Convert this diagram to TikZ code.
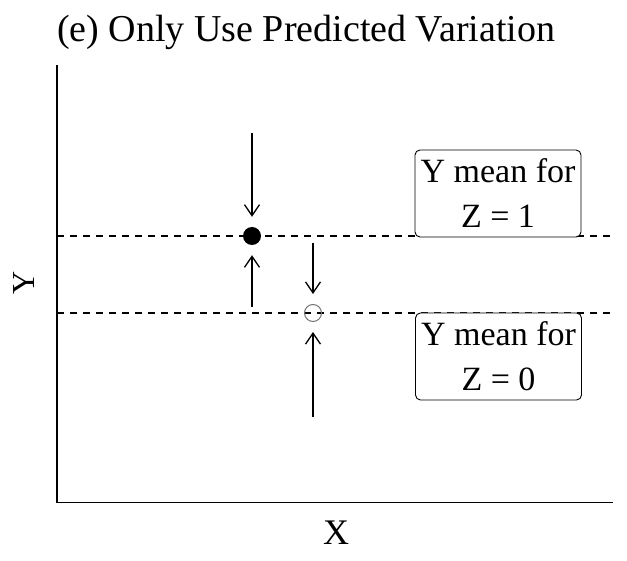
\documentclass[tikz,border=0pt]{standalone}
\usepackage{fontspec}
\setmainfont{Liberation Serif}
\usetikzlibrary{arrows.meta}
\begin{document}
\begin{tikzpicture}[x=1pt,y=-1pt,
  axisline/.style={line width=1.8pt},
  meanline/.style={line width=1.4pt, dash pattern=on 7pt off 6pt},
  pointer/.style={line width=1.3pt, -{Straight Barb[length=11pt,width=15pt,line width=1.3pt]}, shorten >=10pt},
  labelbox/.style={draw, line width=0.9pt, rounded corners=5pt, fill=white, minimum width=166pt, minimum height=87pt, align=center, inner sep=0pt, font=\fontsize{34}{45}\selectfont},
  dotfull/.style={circle, fill=black, minimum size=18pt, inner sep=0pt},
  dotopen/.style={circle, draw=black!55, line width=1pt, minimum size=17pt, inner sep=0pt}]
\useasboundingbox (0,0) rectangle (627,561);
% title and axis labels
\node[anchor=base west, font=\fontsize{38}{40}\selectfont, inner sep=0pt] (title) at (57,42) {(e) Only Use Predicted Variation};
\node[rotate=90, font=\fontsize{32}{34}\selectfont, inner sep=0pt] (ylab) at (24,283) {Y};
\node[font=\fontsize{36}{38}\selectfont, inner sep=0pt] (xlab) at (336,533) {X};
% axes
\coordinate (ytop) at (57,65);
\coordinate (orig) at (57,502.5);
\coordinate (xend) at (613,502.5);
\draw[axisline] (ytop) -- (orig) -- (xend);
% mean lines
\coordinate (m1a) at (57,236);
\coordinate (m1b) at (613,236);
\coordinate (m0a) at (57,313);
\coordinate (m0b) at (613,313);
\draw[meanline] (m1a) -- (m1b);
\draw[meanline] (m0a) -- (m0b);
% boxes
\node[labelbox] (b1) at (498,193.5) {Y mean for\\Z = 1};
\node[labelbox] (b0) at (498.5,356.5) {Y mean for\\Z = 0};
% points
\node[dotfull] (d1) at (252,236) {};
\node[dotopen] (d0) at (313,313) {};
% arrows
\coordinate (a1) at (252,133);
\coordinate (a2) at (252,307);
\coordinate (a3) at (313,243);
\coordinate (a4) at (313,417);
\draw[pointer] (a1) -- (d1);
\draw[pointer] (a2) -- (d1);
\draw[pointer] (a3) -- (d0);
\draw[pointer] (a4) -- (d0);
\end{tikzpicture}
\end{document}
